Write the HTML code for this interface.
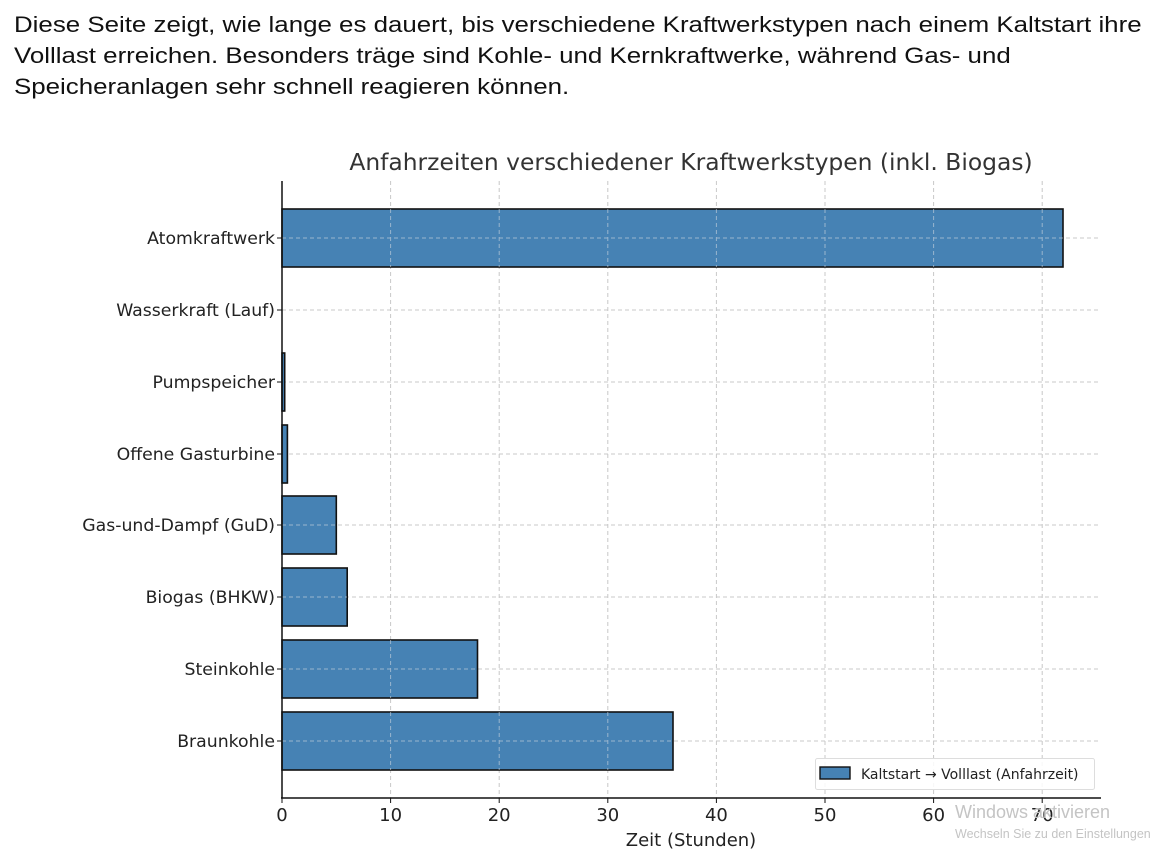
<!DOCTYPE html>
<html><head><meta charset="utf-8"><style>
html,body{margin:0;padding:0;background:#fff;width:1176px;height:858px;overflow:hidden}
.intro{position:absolute;left:14px;top:9px;font-family:"Liberation Sans",Arial,sans-serif;font-size:22.5px;line-height:31px;color:#111;width:1008px;transform:scaleX(1.15);transform-origin:0 0}
svg{position:absolute;left:0;top:0}
</style></head><body>
<div class="intro">Diese Seite zeigt, wie lange es dauert, bis verschiedene Kraftwerkstypen nach einem Kaltstart ihre Volllast erreichen. Besonders träge sind Kohle- und Kernkraftwerke, während Gas- und Speicheranlagen sehr schnell reagieren können.</div>
<svg width="1176" height="858" font-family="DejaVu Sans, Liberation Sans, sans-serif">
<g stroke="#c8c8c8" stroke-width="1" stroke-dasharray="4,3">
<line x1="390.6" y1="181" x2="390.6" y2="798"/><line x1="499.2" y1="181" x2="499.2" y2="798"/><line x1="607.8" y1="181" x2="607.8" y2="798"/><line x1="716.4" y1="181" x2="716.4" y2="798"/><line x1="825" y1="181" x2="825" y2="798"/><line x1="933.6" y1="181" x2="933.6" y2="798"/><line x1="1042.2" y1="181" x2="1042.2" y2="798"/>
<line x1="282" y1="238" x2="1101" y2="238"/><line x1="282" y1="310" x2="1101" y2="310"/><line x1="282" y1="382" x2="1101" y2="382"/><line x1="282" y1="454" x2="1101" y2="454"/><line x1="282" y1="525" x2="1101" y2="525"/><line x1="282" y1="597" x2="1101" y2="597"/><line x1="282" y1="669" x2="1101" y2="669"/><line x1="282" y1="741" x2="1101" y2="741"/>
</g>
<g fill="#4682b4" stroke="#111" stroke-width="1.6">
<rect x="282" y="209" width="781" height="58"/>
<rect x="282" y="353" width="2.7" height="58"/>
<rect x="282" y="425" width="5.4" height="58"/>
<rect x="282" y="496" width="54.3" height="58"/>
<rect x="282" y="568" width="65.2" height="58"/>
<rect x="282" y="640" width="195.5" height="58"/>
<rect x="282" y="712" width="391" height="58"/>
</g>
<g stroke="#d0d8e0" stroke-width="1" stroke-dasharray="4,3" opacity="0.6">
<line x1="390.6" y1="209" x2="390.6" y2="267"/><line x1="499.2" y1="209" x2="499.2" y2="267"/><line x1="607.8" y1="209" x2="607.8" y2="267"/><line x1="716.4" y1="209" x2="716.4" y2="267"/><line x1="825" y1="209" x2="825" y2="267"/><line x1="933.6" y1="209" x2="933.6" y2="267"/><line x1="1042.2" y1="209" x2="1042.2" y2="267"/>
<line x1="282" y1="238" x2="1063" y2="238"/><line x1="282" y1="525" x2="336" y2="525"/><line x1="282" y1="597" x2="347" y2="597"/><line x1="282" y1="669" x2="477" y2="669"/><line x1="282" y1="741" x2="673" y2="741"/>
<line x1="390.6" y1="640" x2="390.6" y2="698"/><line x1="390.6" y1="712" x2="390.6" y2="770"/><line x1="499.2" y1="712" x2="499.2" y2="770"/><line x1="607.8" y1="712" x2="607.8" y2="770"/>
</g>
<g stroke="#111" stroke-width="1.5">
<line x1="282" y1="181" x2="282" y2="798"/>
<line x1="281" y1="798" x2="1101" y2="798"/>
</g>
<g stroke="#111" stroke-width="1">
<line x1="282" y1="798" x2="282" y2="803"/><line x1="390.6" y1="798" x2="390.6" y2="803"/><line x1="499.2" y1="798" x2="499.2" y2="803"/><line x1="607.8" y1="798" x2="607.8" y2="803"/><line x1="716.4" y1="798" x2="716.4" y2="803"/><line x1="825" y1="798" x2="825" y2="803"/><line x1="933.6" y1="798" x2="933.6" y2="803"/><line x1="1042.2" y1="798" x2="1042.2" y2="803"/>
<line x1="277" y1="238" x2="282" y2="238"/><line x1="277" y1="310" x2="282" y2="310"/><line x1="277" y1="382" x2="282" y2="382"/><line x1="277" y1="454" x2="282" y2="454"/><line x1="277" y1="525" x2="282" y2="525"/><line x1="277" y1="597" x2="282" y2="597"/><line x1="277" y1="669" x2="282" y2="669"/><line x1="277" y1="741" x2="282" y2="741"/>
</g>
<g font-size="17.3" fill="#222" text-anchor="end">
<text x="275" y="244">Atomkraftwerk</text>
<text x="275" y="316">Wasserkraft (Lauf)</text>
<text x="275" y="388">Pumpspeicher</text>
<text x="275" y="460">Offene Gasturbine</text>
<text x="275" y="531">Gas-und-Dampf (GuD)</text>
<text x="275" y="603">Biogas (BHKW)</text>
<text x="275" y="675">Steinkohle</text>
<text x="275" y="747">Braunkohle</text>
</g>
<g font-size="18" fill="#222" text-anchor="middle">
<text x="282" y="821">0</text><text x="390.6" y="821">10</text><text x="499.2" y="821">20</text><text x="607.8" y="821">30</text><text x="716.4" y="821">40</text><text x="825" y="821">50</text><text x="933.6" y="821">60</text><text x="1042.2" y="821">70</text>
<text x="691" y="846">Zeit (Stunden)</text>
<text x="691" y="170" font-size="23.4" fill="#333">Anfahrzeiten verschiedener Kraftwerkstypen (inkl. Biogas)</text>
</g>
<rect x="815.5" y="758.5" width="279" height="31" rx="2" fill="#fff" fill-opacity="0.85" stroke="#ddd"/>
<rect x="820" y="767" width="30" height="12" fill="#4682b4" stroke="#111" stroke-width="1.4"/>
<text x="861" y="779" font-size="14" fill="#222">Kaltstart → Volllast (Anfahrzeit)</text>
<text x="955" y="818" font-size="18" fill="#c4c4c4" font-family="Liberation Sans, sans-serif">Windows aktivieren</text>
<text x="955" y="838" font-size="12.5" fill="#c4c4c4" font-family="Liberation Sans, sans-serif">Wechseln Sie zu den Einstellungen</text>
</svg>
</body></html>
